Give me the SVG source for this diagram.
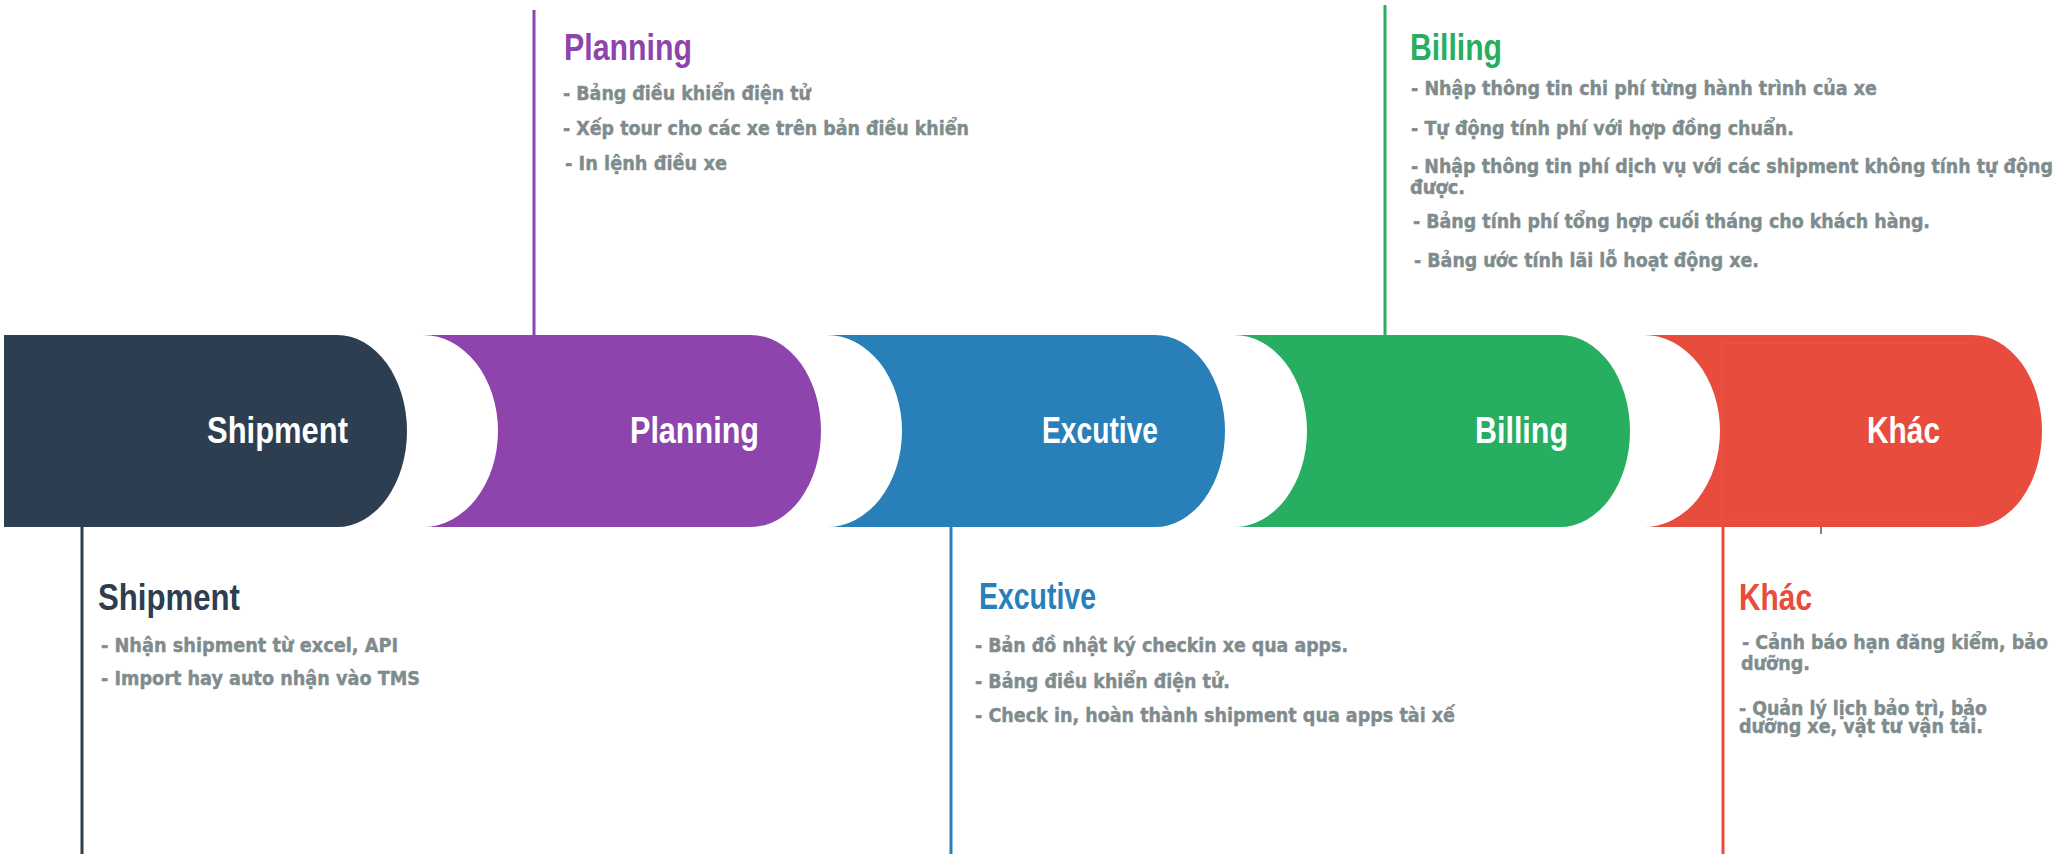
<svg xmlns="http://www.w3.org/2000/svg" width="2063" height="854" viewBox="0 0 2063 854">
<style>
.lbl{font-family:"Liberation Sans Narrow","Liberation Sans","DejaVu Sans Condensed",sans-serif;font-weight:bold;font-size:36px;fill:#ffffff}
.hd{font-family:"Liberation Sans Narrow","Liberation Sans","DejaVu Sans Condensed",sans-serif;font-weight:bold;font-size:36px}
.tx{font-family:"DejaVu Sans","Noto Sans",sans-serif;font-weight:bold;font-size:19.5px;fill:#7f8c8d;stroke:#7f8c8d;stroke-width:0.45}
.ln{stroke-width:3;fill:none}
</style>
<rect width="2063" height="854" fill="#ffffff"/>
<g id="connectors">
<line class="ln" x1="82" y1="527" x2="82" y2="854" stroke="#2c3e50"/>
<line class="ln" x1="534" y1="10" x2="534" y2="335" stroke="#8e44ad"/>
<line class="ln" x1="951" y1="527" x2="951" y2="854" stroke="#2980b9"/>
<line class="ln" x1="1385" y1="5" x2="1385" y2="335" stroke="#27ae60"/>
<line class="ln" x1="1723" y1="527" x2="1723" y2="854" stroke="#e74c3c"/>
<line x1="1821" y1="527" x2="1821" y2="534" stroke="#555555" stroke-width="1.5"/>
</g>
<g id="shipment">
<path d="M4,335 H337 A70,96 0 0 1 337,527 H4 Z" fill="#2c3e50"/>
<text class="lbl" x="207" y="443" textLength="141" lengthAdjust="spacingAndGlyphs">Shipment</text>
<text class="hd" x="98" y="610" fill="#2c3e50" textLength="142" lengthAdjust="spacingAndGlyphs">Shipment</text>
<text class="tx" x="101" y="652" textLength="297" lengthAdjust="spacingAndGlyphs">- Nhận shipment từ excel, API</text>
<text class="tx" x="101" y="685" textLength="319" lengthAdjust="spacingAndGlyphs">- Import hay auto nhận vào TMS</text>
</g>
<g id="planning">
<path d="M423,335 H751 A70,96 0 0 1 751,527 H423 A75,96 0 0 0 423,335 Z" fill="#8e44ad"/>
<text class="lbl" x="630" y="443" textLength="129" lengthAdjust="spacingAndGlyphs">Planning</text>
<text class="hd" x="564" y="60" fill="#8e44ad" textLength="128" lengthAdjust="spacingAndGlyphs">Planning</text>
<text class="tx" x="563" y="100" textLength="248" lengthAdjust="spacingAndGlyphs">- Bảng điều khiển điện tử</text>
<text class="tx" x="563" y="135" textLength="406" lengthAdjust="spacingAndGlyphs">- Xếp tour cho các xe trên bản điều khiển</text>
<text class="tx" x="565" y="170" textLength="162" lengthAdjust="spacingAndGlyphs">- In lệnh điều xe</text>
</g>
<g id="excutive">
<path d="M827,335 H1155 A70,96 0 0 1 1155,527 H827 A75,96 0 0 0 827,335 Z" fill="#2980b9"/>
<text class="lbl" x="1042" y="443" textLength="116" lengthAdjust="spacingAndGlyphs">Excutive</text>
<text class="hd" x="979" y="609" fill="#2980b9" textLength="117" lengthAdjust="spacingAndGlyphs">Excutive</text>
<text class="tx" x="975" y="652" textLength="373" lengthAdjust="spacingAndGlyphs">- Bản đồ nhật ký checkin xe qua apps.</text>
<text class="tx" x="975" y="688" textLength="255" lengthAdjust="spacingAndGlyphs">- Bảng điều khiển điện tử.</text>
<text class="tx" x="975" y="722" textLength="480" lengthAdjust="spacingAndGlyphs">- Check in, hoàn thành shipment qua apps tài xế</text>
</g>
<g id="billing">
<path d="M1234,335 H1560 A70,96 0 0 1 1560,527 H1234 A73,96 0 0 0 1234,335 Z" fill="#27ae60"/>
<text class="lbl" x="1475" y="443" textLength="93" lengthAdjust="spacingAndGlyphs">Billing</text>
<text class="hd" x="1410" y="60" fill="#27ae60" textLength="92" lengthAdjust="spacingAndGlyphs">Billing</text>
<text class="tx" x="1411" y="95" textLength="466" lengthAdjust="spacingAndGlyphs">- Nhập thông tin chi phí từng hành trình của xe</text>
<text class="tx" x="1411" y="135" textLength="383" lengthAdjust="spacingAndGlyphs">- Tự động tính phí với hợp đồng chuẩn.</text>
<text class="tx" x="1411" y="173" textLength="642" lengthAdjust="spacingAndGlyphs">- Nhập thông tin phí dịch vụ với các shipment không tính tự động</text>
<text class="tx" x="1410" y="194" textLength="55" lengthAdjust="spacingAndGlyphs">được.</text>
<text class="tx" x="1413" y="228" textLength="517" lengthAdjust="spacingAndGlyphs">- Bảng tính phí tổng hợp cuối tháng cho khách hàng.</text>
<text class="tx" x="1414" y="267" textLength="345" lengthAdjust="spacingAndGlyphs">- Bảng ước tính lãi lỗ hoạt động xe.</text>
</g>
<g id="khac">
<path d="M1644,335 H1972 A70,96 0 0 1 1972,527 H1644 A76,96 0 0 0 1644,335 Z" fill="#e74c3c"/>
<path d="M1722,343 H1972 M1722,520 H1972 M1722,343 V520" stroke="#eb5646" stroke-width="1.2" fill="none"/>
<text class="lbl" x="1867" y="443" textLength="73" lengthAdjust="spacingAndGlyphs">Khác</text>
<text class="hd" x="1739" y="610" fill="#e74c3c" textLength="73" lengthAdjust="spacingAndGlyphs">Khác</text>
<text class="tx" x="1742" y="649" textLength="306" lengthAdjust="spacingAndGlyphs">- Cảnh báo hạn đăng kiểm, bảo</text>
<text class="tx" x="1741" y="670" textLength="69" lengthAdjust="spacingAndGlyphs">dưỡng.</text>
<text class="tx" x="1739" y="715" textLength="248" lengthAdjust="spacingAndGlyphs">- Quản lý lịch bảo trì, bảo</text>
<text class="tx" x="1739" y="733" textLength="244" lengthAdjust="spacingAndGlyphs">dưỡng xe, vật tư vận tải.</text>
</g>
</svg>
